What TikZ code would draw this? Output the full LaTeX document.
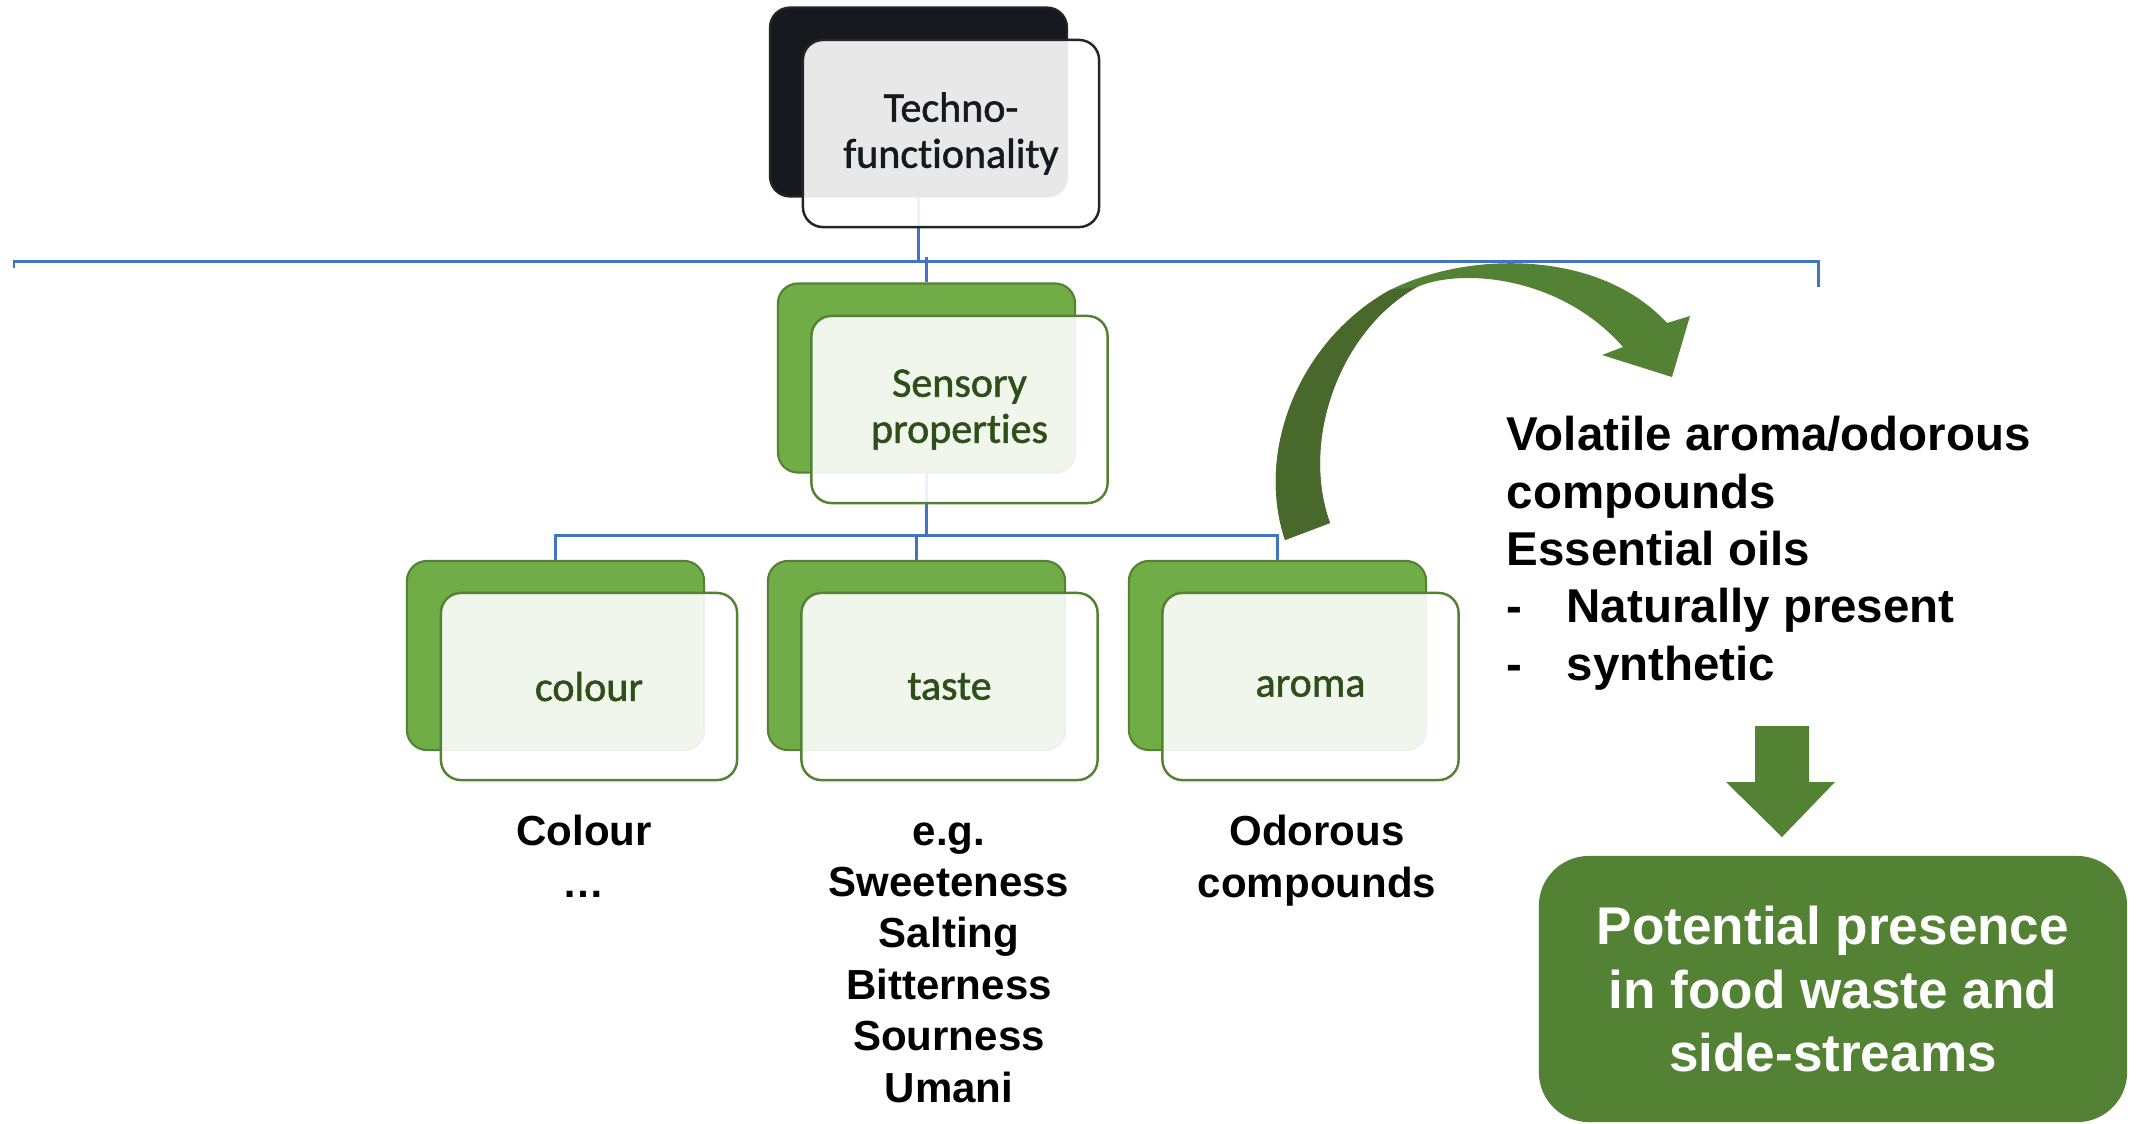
\documentclass[tikz,border=0pt]{standalone}
\usepackage{fontspec}
\setmainfont{Liberation Sans}
\newfontfamily\calfont[Ligatures=NoCommon, FakeBold=1.3]{Carlito}
\definecolor{connblue}{HTML}{4472C4}
\definecolor{gback}{HTML}{70AD47}
\definecolor{gline}{HTML}{548235}
\definecolor{gdark}{HTML}{48692B}
\definecolor{gtext}{HTML}{2E4E1A}
\definecolor{dback}{HTML}{16191D}
\definecolor{dline}{HTML}{22262B}
\tikzset{
  backbox/.style={draw=gline, line width=0.6pt, fill=gback, rounded corners=0.2cm,
    minimum width=2.97cm, minimum height=1.89cm, inner sep=0pt},
  frontbox/.style={draw=gline, line width=0.7pt, fill=white, fill opacity=0.9, text opacity=1,
    rounded corners=0.2cm, minimum width=2.96cm, minimum height=1.87cm, inner sep=0pt,
    font=\calfont\fontsize{11.95}{13.1}\selectfont, text=gtext, align=center},
  connector/.style={draw=connblue, line width=0.85pt},
  labeltext/.style={font=\bfseries\fontsize{11.95}{14.6}\selectfont, align=center, inner sep=0pt, anchor=base},
  sidetext/.style={font=\bfseries\fontsize{13.5}{16.3}\selectfont, align=left, inner sep=0pt, anchor=base west},
  bigbox/.style={fill=gline, rounded corners=0.5cm, minimum width=5.88cm, minimum height=2.66cm,
    inner sep=0pt, text=white, align=center, font=\bfseries\fontsize{15.1}{18}\selectfont},
  blockarrow/.style={fill=gline}
}
\begin{document}
\begin{tikzpicture}[x=0.01cm,y=-0.01cm]
\useasboundingbox (0,0) rectangle (2141,1123);
\fill[white] (0,0) rectangle (2141,1123);

% back boxes
\node[backbox, fill=dback, draw=dline] (tb) at (918.5,102) {};
\node[backbox] (sb) at (926.5,378) {};
\node[backbox] (cb) at (555.5,655.5) {};
\node[backbox] (xb) at (916.5,655.5) {};
\node[backbox] (ab) at (1277.5,655.5) {};

% connectors
\coordinate (ja) at (918.5,261);
\coordinate (jb) at (926.5,257);
\coordinate (ll) at (14,268);
\coordinate (rr) at (1818,287);
\coordinate (jc) at (926.5,535);
\draw[connector] (tb.south) -- (ja);
\draw[connector] (jb) -- (sb.north);
\draw[connector] (ll) -- (14,261) -- (1818,261) -- (rr);
\draw[connector] (sb.south) -- (jc);
\draw[connector] (cb.north) |- (jc) -| (ab.north);
\draw[connector] (jc -| xb.north) -- (xb.north);

% front boxes
\node[frontbox, draw=dline, text=dback] (tf) at (951,133.5) {Techno-\\functionality};
\node[frontbox] (sf) at (959.5,409.5) {Sensory\\properties};
\node[frontbox] (cf) at (589,686.5) {colour};
\node[frontbox] (xf) at (949.5,686.5) {taste};
\node[frontbox] (af) at (1310.5,686.5) {aroma};

% curved arrow
\fill[gline] (1285,540) .. controls (1255,450) and (1300,340) .. (1390,290)
  .. controls (1470,250) and (1600,250) .. (1667,323) -- (1690,316) -- (1672,377)
  -- (1602,355) -- (1623,347) .. controls (1560,275) and (1460,268) .. (1417,287)
  .. controls (1340,330) and (1300,440) .. (1330,523) -- cycle;
\fill[gdark] (1285,540) .. controls (1255,450) and (1300,340) .. (1390,290)
  -- (1417,287) .. controls (1340,330) and (1300,440) .. (1330,523) -- cycle;

% labels under boxes (anchor = baseline of last line)
\node[labeltext] (cl) at (584,897) {Colour\\…};
\node[labeltext] (xl) at (949,1102) {e.g.\\Sweeteness\\Salting\\Bitterness\\Sourness\\Umani};
\node[labeltext] (al) at (1317,897) {Odorous\\compounds};

% side text
\node[sidetext] (st) at (1506,680) {Volatile aroma/odorous\\compounds\\Essential oils\\\makebox[17.07pt][l]{-}Naturally present\\\makebox[17.07pt][l]{-}synthetic};

% down arrow
\fill[blockarrow] (1755,726) -- (1809,726) -- (1809,782) -- (1835,782) -- (1782,837) -- (1726,782) -- (1755,782) -- cycle;

% result box
\node[bigbox] (pot) at (1833,989) {Potential presence\\in food waste and\\side-streams};
\end{tikzpicture}
\end{document}
